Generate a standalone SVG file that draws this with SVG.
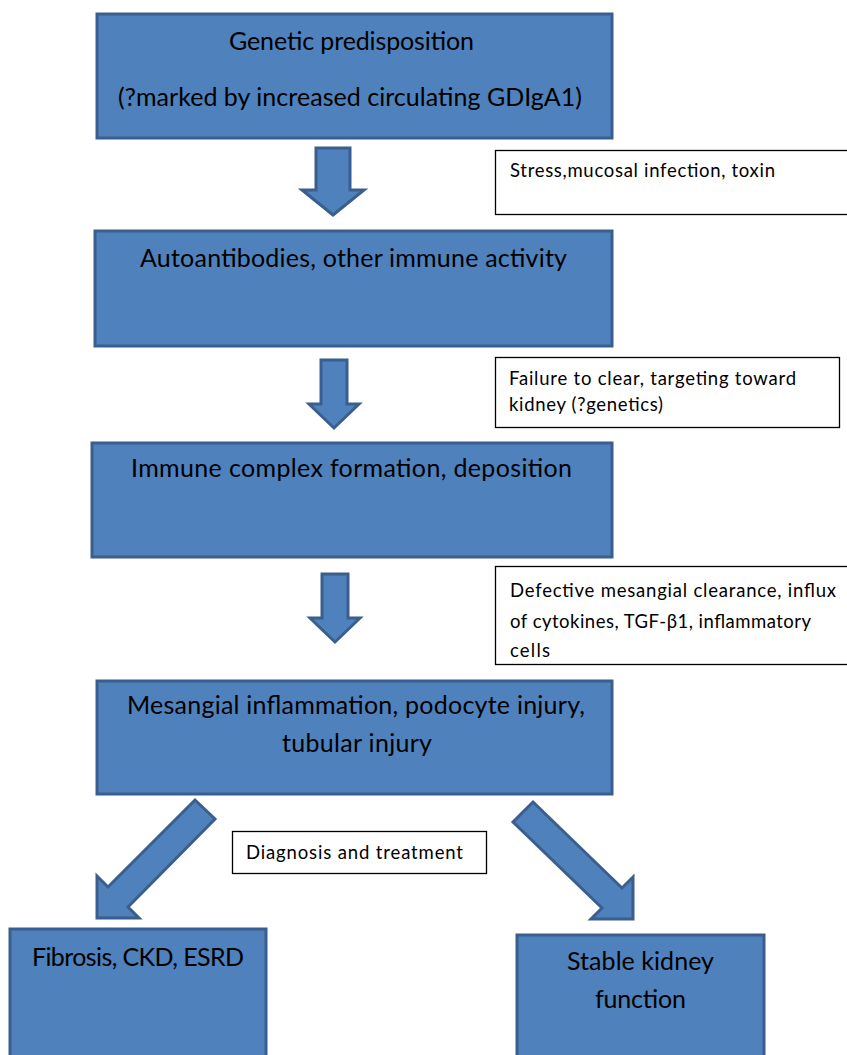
<svg xmlns="http://www.w3.org/2000/svg" width="847" height="1055" viewBox="0 0 847 1055">
<style>
.node{fill:#4F81BD;stroke:#3A5F8E;stroke-width:3}
.arrow{fill:#4F81BD;stroke:#3A5F8E;stroke-width:3;stroke-linejoin:miter}
.lbl{fill:#FFFFFF;stroke:#000000;stroke-width:1.3}
.t{font-family:Lato,"Liberation Sans",sans-serif;font-size:25px;fill:#000}
.s{font-family:Lato,"Liberation Sans",sans-serif;font-size:18.5px;fill:#000}
</style>
<rect width="847" height="1055" fill="#FFFFFF"/>
<g id="connectors">
<polygon class="arrow" points="316,148 350,148 350,190 364,190 333,215 302,190 316,190"/>
<polygon class="arrow" points="321,360 347,360 347,404 359,404 334,428 309,404 321,404"/>
<polygon class="arrow" points="322,574 348,574 348,618 360,618 335,642 310,618 322,618"/>
<polygon class="arrow" points="195,800 215,819 128,907 139,918 97,918 97,876 108,887"/>
<polygon class="arrow" points="533,802 622,888 633,877 633,919 591,919 602,908 513,822"/>
</g>
<g id="node-genetic">
<rect class="node" x="97" y="14" width="515" height="124"/>
<text class="t" x="229" y="50" textLength="245">Genetic predisposition</text>
<text class="t" x="118" y="106" textLength="464">(?marked by increased circulating GDIgA1)</text>
</g>
<g id="label-stress">
<rect class="lbl" x="495.5" y="150.5" width="360" height="64"/>
<text class="s" x="510" y="177" textLength="265">Stress,mucosal infection, toxin</text>
</g>
<g id="node-autoantibodies">
<rect class="node" x="95" y="231" width="517" height="115"/>
<text class="t" x="140" y="267" textLength="427">Autoantibodies, other immune activity</text>
</g>
<g id="label-failure">
<rect class="lbl" x="495.5" y="357.5" width="344" height="70"/>
<text class="s" x="509" y="385" textLength="287">Failure to clear, targeting toward</text>
<text class="s" x="509" y="411" textLength="154">kidney (?genetics)</text>
</g>
<g id="node-immune-complex">
<rect class="node" x="92" y="443" width="520" height="114"/>
<text class="t" x="131" y="477" textLength="441">Immune complex formation, deposition</text>
</g>
<g id="label-defective">
<rect class="lbl" x="495.5" y="566.5" width="360" height="98"/>
<text class="s" x="510" y="597" textLength="326">Defective mesangial clearance, influx</text>
<text class="s" x="510" y="628" textLength="301">of cytokines, TGF-β1, inflammatory</text>
<text class="s" x="510" y="657" textLength="40">cells</text>
</g>
<g id="node-mesangial">
<rect class="node" x="97" y="681" width="515" height="113"/>
<text class="t" x="127" y="714" textLength="458">Mesangial inflammation, podocyte injury,</text>
<text class="t" x="282" y="752" textLength="150">tubular injury</text>
</g>
<g id="label-diagnosis">
<rect class="lbl" x="232.5" y="831.5" width="254" height="42"/>
<text class="s" x="246" y="859" textLength="217">Diagnosis and treatment</text>
</g>
<g id="node-fibrosis">
<rect class="node" x="10" y="929" width="256" height="140"/>
<text class="t" x="32" y="966" textLength="212">Fibrosis, CKD, ESRD</text>
</g>
<g id="node-stable">
<rect class="node" x="517" y="935" width="247" height="140"/>
<text class="t" x="567" y="970" textLength="147">Stable kidney</text>
<text class="t" x="595" y="1008" textLength="91">function</text>
</g>
</svg>
